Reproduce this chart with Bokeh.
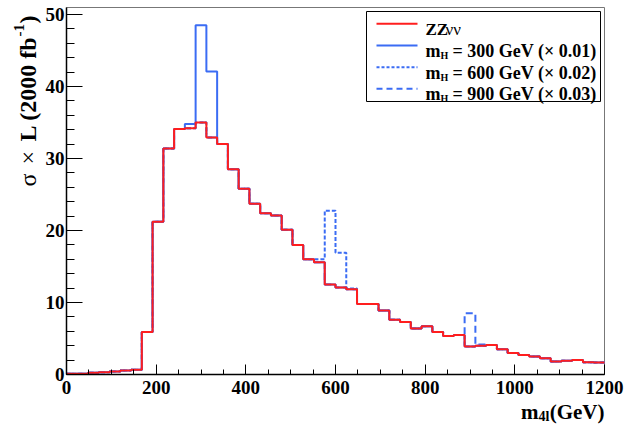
import numpy as np
from bokeh.plotting import figure
from bokeh.models import Range1d, Label, FixedTicker
from bokeh.embed import file_html
from bokeh.resources import INLINE

# ---------------- data ----------------
bin_edges = list(range(0, 1201, 24))          # 50 bins of 24 GeV
zz_nunu = [0.10, 0.12, 0.25, 0.30, 0.40, 0.55, 0.65, 5.9, 21.2, 31.4,
           34.1, 34.2, 35.0, 32.9, 32.0, 28.5, 25.8, 23.7, 22.4, 22.1,
           20.1, 18.0, 16.0, 15.6, 12.5, 12.1, 11.85, 9.8, 9.8, 8.9,
           7.6, 7.3, 6.4, 6.7, 5.9, 5.35, 5.5, 3.9, 4.0, 4.1,
           3.5, 3.0, 2.7, 2.5, 2.25, 1.8, 1.9, 2.0, 1.7, 1.65]
# signal + background totals where they differ from ZZvv (bin low edge -> value)
mh300_bins = [264, 288, 312]
mh300_vals = [34.8, 48.5, 42.1]
mh600_bins = [552, 576, 600, 624]
mh600_vals = [16.0, 22.75, 16.9, 11.95]
mh900_bins = [888, 912]
mh900_vals = [8.5, 4.15]

x_ticks = [0, 200, 400, 600, 800, 1000, 1200]
y_ticks = [0, 10, 20, 30, 40, 50]
legend_masses = ["300", "600", "900"]
legend_scales = ["0.01", "0.02", "0.03"]

RED = "#ff1e1e"
BLUE = "#3b6cf4"
FONT = "Liberation Serif"

W, H = 624, 436
FL, FR, FT, FB = 66, 604, 7, 374      # plot box edges in page pixels
X_MAX = 1200.0
Y_TOP = (FB - FT) / 7.2

def dx(px):
    return (px - FL) / (FR - FL) * X_MAX

def dy(py):
    return (FB - py) / (FB - FT) * Y_TOP

def total(bins, vals):
    out = list(zz_nunu)
    for b, v in zip(bins, vals):
        out[bin_edges.index(b)] = v
    return out

# the frame spans the whole canvas so that titles outside the box are not clipped
p = figure(width=W, height=H, output_backend="svg", toolbar_location=None,
           x_range=Range1d(dx(0), dx(W)), y_range=Range1d(dy(H), dy(0)),
           min_border=0, min_border_left=0, min_border_right=0,
           min_border_top=0, min_border_bottom=0)
p.grid.visible = False
p.outline_line_color = None
p.background_fill_color = "white"
p.border_fill_color = "white"

# plot box (gray top/right, axes draw black left/bottom on top)
p.quad(left=0, right=X_MAX, bottom=0, top=Y_TOP, fill_color=None,
       line_color="#777777", line_width=1)

for ax in (p.xaxis[0], p.yaxis[0]):
    ax.fixed_location = 0
    ax.major_label_text_font = FONT
    ax.major_label_text_font_style = "bold"
    ax.major_label_text_font_size = "19px"
    ax.major_label_text_color = "black"
    ax.axis_line_color = "black"
    ax.axis_line_width = 1.5
    ax.major_tick_line_color = "black"
    ax.minor_tick_line_color = "black"
    ax.major_tick_out = 0
    ax.minor_tick_out = 0

p.xaxis.bounds = (0, X_MAX)
p.yaxis.bounds = (0, Y_TOP)
p.xaxis.ticker = FixedTicker(ticks=x_ticks, minor_ticks=list(range(0, 1201, 50)))
p.yaxis.ticker = FixedTicker(ticks=y_ticks, minor_ticks=list(range(0, 51, 2)))
p.xaxis.major_tick_in = 10
p.xaxis.minor_tick_in = 5
p.yaxis.major_tick_in = 16
p.yaxis.minor_tick_in = 8
p.xaxis.major_label_standoff = 6
p.yaxis.major_label_standoff = 2

def step(vals, **kw):
    p.step(bin_edges, vals + [vals[-1]], mode="after", **kw)

step(total(mh900_bins, mh900_vals), line_color=BLUE, line_width=2, line_dash="7 4")
step(total(mh600_bins, mh600_vals), line_color=BLUE, line_width=2, line_dash="4 2")
step(total(mh300_bins, mh300_vals), line_color=BLUE, line_width=2)
step(zz_nunu, line_color=RED, line_width=2)

# ---------------- legend (drawn by hand) ----------------
p.quad(left=dx(366), right=dx(600), bottom=dy(101), top=dy(11),
       fill_color="white", line_color="black", line_width=1)
rows_y = [23.3, 45.0, 66.7, 88.3]
styles = [dict(line_color=RED), dict(line_color=BLUE),
          dict(line_color=BLUE, line_dash="3 2"), dict(line_color=BLUE, line_dash="6 4")]
for ry, st in zip(rows_y, styles):
    p.line([dx(376), dx(417)], [dy(ry), dy(ry)], line_width=2, **st)

def lab(px, py, text, size, style="bold", **kw):
    p.add_layout(Label(x=dx(px), y=dy(py), text=text, text_font=FONT,
                       text_font_size=f"{size}px", text_font_style=style,
                       text_color="black", text_baseline="alphabetic", **kw))

lab(425, 28.5, "ZZ", 17)
lab(445, 28.5, "\u03bd\u03bd", 17, style="normal")
for ry, m, s in zip(rows_y[1:], legend_masses, legend_scales):
    base = ry + 5.3
    lab(425, base, "m", 18)
    lab(440, base + 4.5, "H", 10)
    lab(452, base, f"= {m} GeV (\u00d7 {s})", 18)

# ---------------- axis titles ----------------
lab(604, 411, "(GeV)", 21, text_align="right")
lab(549, 416, "4l", 14, text_align="right")
lab(538, 411, "m", 21, text_align="right")

ang = np.pi / 2
lab(27, 186, "\u03c3", 24, style="normal", angle=ang)
lab(27, 164, "\u00d7", 24, style="normal", angle=ang)
lab(27, 141, "L (2000 fb", 24, angle=ang)
lab(18, 36, "-1", 15, angle=ang)
lab(27, 23, ")", 24, angle=ang)

open("out.html", "w").write(file_html(p, INLINE))
